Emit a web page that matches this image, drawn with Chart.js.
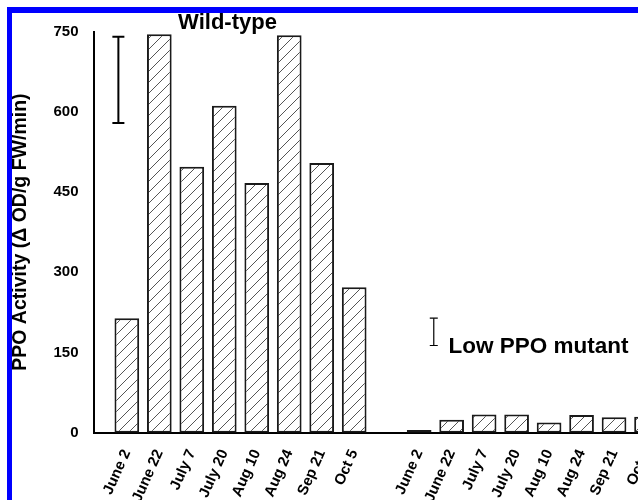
<!DOCTYPE html>
<html>
<head>
<meta charset="utf-8">
<script src="https://cdn.jsdelivr.net/npm/chart.js@4.4.0/dist/chart.umd.min.js"></script>
<style>
  html, body { margin: 0; padding: 0; background: #fff; overflow: hidden; }
  #wrap { position: relative; width: 700px; height: 500px; }
  #frame { position: absolute; left: 7px; top: 7px; width: 720px; height: 520px;
           border-top: 6px solid #0000ff; border-left: 5px solid #0000ff; pointer-events: none; }
</style>
</head>
<body>
<div id="wrap">
  <canvas id="grafica" width="700" height="500"></canvas>
  <div id="frame"></div>
</div>
<script>
// Datos
const fechas = ['June 2', 'June 22', 'July 7', 'July 20', 'Aug 10', 'Aug 24', 'Sep 21', 'Oct 5'];
const silvestre = [214, 745, 497, 611, 467, 743, 504, 272];
const mutante = [5, 24, 34, 34, 19, 33, 29, 30];
const ticksY = [0, 150, 300, 450, 600, 750];
const barraSilvestre = [579, 740];   // barra de error suelta (wild-type)
const barraMutante = [163, 214];     // barra de error suelta (mutante)

const FUENTE = '"Liberation Sans", Arial, sans-serif';

// Posiciones en el eje x: grupo 1, un hueco, grupo 2
const posiciones = [];
const etiquetas = {};
const barras = [];
fechas.forEach((f, i) => {
    posiciones.push(i);
    etiquetas[i] = f;
    barras.push({ x: i, y: silvestre[i] });
});
fechas.forEach((f, i) => {
    const p = i + fechas.length + 1;
    posiciones.push(p);
    etiquetas[p] = f;
    barras.push({ x: p, y: mutante[i] });
});

// Trama rayada de las barras
function crearTrama() {
    const c = document.createElement('canvas');
    c.width = 11; c.height = 11;
    const g = c.getContext('2d');
    g.fillStyle = '#fff';
    g.fillRect(0, 0, 11, 11);
    g.strokeStyle = '#555';
    g.lineWidth = 1;
    g.beginPath();
    g.moveTo(-1, 12);
    g.lineTo(12, -1);
    g.stroke();
    return g.createPattern(c, 'repeat');
}

// Textos dentro del gráfico
const textos = {
    id: 'textos',
    afterDraw(chart) {
        const { ctx, scales: { x, y } } = chart;
        ctx.save();
        ctx.fillStyle = '#000';
        ctx.font = 'bold 22px ' + FUENTE;
        ctx.textBaseline = 'alphabetic';
        ctx.textAlign = 'center';
        ctx.fillText('Wild-type', x.getPixelForValue(3.1), 29);
        ctx.textAlign = 'left';
        ctx.font = 'bold 22.5px ' + FUENTE;
        ctx.fillText('Low PPO mutant', x.getPixelForValue(9.9), y.getPixelForValue(149));
        ctx.restore();
    }
};

const fuenteTicks = { family: FUENTE, size: 15, weight: 'bold' };

new Chart(document.getElementById('grafica'), {
    type: 'bar',
    data: {
        datasets: [
            {
                type: 'bar',
                data: barras,
                backgroundColor: crearTrama(),
                borderColor: '#1a1a1a',
                borderWidth: 2,
                borderSkipped: false,
                barPercentage: 0.76,
                categoryPercentage: 1
            },
            {
                type: 'line',
                data: barraSilvestre.map(v => ({ x: -0.26, y: v })),
                borderColor: '#000',
                borderWidth: 2,
                pointStyle: 'line',
                pointRadius: 6,
                pointBorderWidth: 2,
                pointBorderColor: '#000'
            },
            {
                type: 'line',
                data: barraMutante.map(v => ({ x: 9.45, y: v })),
                borderColor: '#000',
                borderWidth: 1.2,
                pointStyle: 'line',
                pointRadius: 4,
                pointBorderWidth: 1.2,
                pointBorderColor: '#000'
            }
        ]
    },
    options: {
        responsive: false,
        animation: false,
        layout: { padding: { top: 31.5, left: 0, right: 0, bottom: 0 } },
        plugins: { legend: { display: false }, tooltip: { enabled: false } },
        scales: {
            x: {
                type: 'linear',
                offset: false,
                min: -1.026,
                max: 17.40,
                grid: { display: false, drawTicks: false },
                border: { display: true, color: '#000', width: 2 },
                afterBuildTicks: s => { s.ticks = posiciones.map(v => ({ value: v })); },
                afterFit: s => { s.height = 67.3; },
                ticks: {
                    autoSkip: false,
                    minRotation: 66,
                    maxRotation: 66,
                    padding: 14,
                    color: '#000',
                    font: fuenteTicks,
                    callback: v => etiquetas[v] || ''
                }
            },
            y: {
                min: 0,
                max: 750,
                grid: { display: false, drawTicks: false },
                border: { display: true, color: '#000', width: 2 },
                afterBuildTicks: s => { s.ticks = ticksY.map(v => ({ value: v })); },
                afterFit: s => { s.width = 93.5; },
                ticks: { padding: 15, color: '#000', font: fuenteTicks },
                title: {
                    display: true,
                    text: 'PPO Activity (Δ OD/g FW/min)',
                    color: '#000',
                    font: { family: FUENTE, size: 19.5, weight: 'bold' },
                    padding: { top: 8.5, bottom: 0 }
                }
            }
        }
    },
    plugins: [textos]
});
</script>
</body>
</html>
